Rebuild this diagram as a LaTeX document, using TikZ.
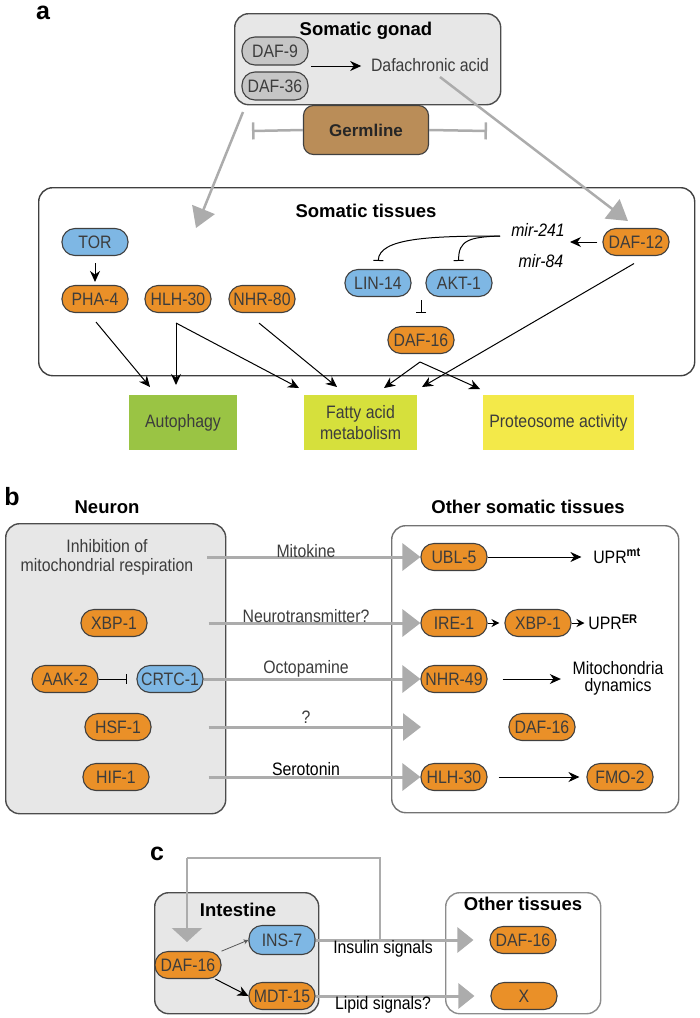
\documentclass[tikz,border=0pt]{standalone}
\usepackage{fontspec}
\setmainfont{Liberation Sans}
\newfontfamily\narrowsf{Liberation Sans}[FakeStretch=0.88]
\usetikzlibrary{arrows.meta}

\definecolor{tfor}{RGB}{234,144,40}
\definecolor{kinb}{RGB}{126,183,228}
\definecolor{enzg}{RGB}{198,198,198}
\definecolor{cellg}{RGB}{231,231,231}
\definecolor{germ}{RGB}{186,141,88}
\definecolor{autog}{RGB}{154,196,68}
\definecolor{fattyy}{RGB}{214,224,60}
\definecolor{proty}{RGB}{243,233,73}
\definecolor{sig}{RGB}{172,172,172}
\definecolor{ink}{RGB}{60,60,60}

\begin{document}
\begin{tikzpicture}[x=1pt, y=-1pt, >={Stealth[length=11pt,width=10pt]}, line width=1pt,
  every node/.style={font=\narrowsf\fontsize{18}{20}\selectfont, text=ink}]

\tikzstyle{gene}=[draw=black!75, line width=1.1pt, rounded corners=13pt, minimum width=66pt, minimum height=27pt, inner sep=1pt]
\tikzstyle{onode}=[gene, fill=tfor]
\tikzstyle{bnode}=[gene, fill=kinb]
\tikzstyle{gnode}=[gene, fill=enzg, minimum height=28pt]
\tikzstyle{tissuebox}=[draw=black!70, line width=1.4pt, rounded corners=14pt, anchor=north west]
\tikzstyle{boxtitle}=[font=\bfseries\fontsize{18.5}{20}\selectfont, text=black]
\tikzstyle{panelletter}=[font=\bfseries\fontsize{25}{26}\selectfont, text=black]
\tikzstyle{outcome}=[minimum height=55pt, align=center, font=\narrowsf\fontsize{18}{21}\selectfont]
\tikzstyle{sigarrow}=[draw=sig, line width=3pt, -{Triangle[length=18pt,width=27pt]}]
\tikzstyle{inh}=[-{Bar[width=10pt]}]

\useasboundingbox (0,0) rectangle (700,1018);

% ---- a ----
\node[panelletter] (pa) at (43,13) {a};
\node[tissuebox, fill=cellg, minimum width=266pt, minimum height=91pt] (gonad) at (234,13) {};
\node[boxtitle] (gonadt) at (366,31) {Somatic gonad};
\node[gnode] (daf9) at (275,51) {DAF-9};
\node[gnode] (daf36) at (275,86) {DAF-36};
\node (dafa) at (430,65) {Dafachronic acid};
\coordinate (dafpair) at (311,66);
\draw[->, shorten >=6pt] (dafpair) -- (dafa.west |- dafpair);

\node[draw=black!75, line width=1.1pt, fill=germ, rounded corners=10pt, minimum width=125pt, minimum height=49pt,
  font=\bfseries\fontsize{17}{19}\selectfont, text=black!85] (germ) at (366,130) {Germline};
\coordinate (germl) at (252,131);
\coordinate (germr) at (487,131);
\draw[draw=sig, line width=2.5pt, -{Bar[width=17pt]}] (germ.west) -- (germl);
\draw[draw=sig, line width=2.5pt, -{Bar[width=17pt]}] (germ.east) -- (germr);

\node[tissuebox, draw=black!75, minimum width=656pt, minimum height=188pt] (soma) at (38,187) {};
\node[boxtitle] (somat) at (366,211) {Somatic tissues};

\coordinate (gonadout) at (243,112);
\coordinate (somain) at (196,228);
\coordinate (dafaout) at (440,77);
\coordinate (d12in) at (628,221);
\draw[sigarrow, line width=2.5pt, -{Triangle[length=20pt,width=24pt]}] (gonadout) -- (somain);
\draw[sigarrow, line width=2.5pt, -{Triangle[length=20pt,width=24pt]}] (dafaout) -- (d12in);

\node[bnode] (tor) at (95,242) {TOR};
\node[onode] (pha4) at (95,299) {PHA-4};
\node[onode] (hlh30) at (178,299) {HLH-30};
\node[onode] (nhr80) at (262,299) {NHR-80};
\node[bnode] (lin14) at (378,283) {LIN-14};
\node[bnode] (akt1) at (459,283) {AKT-1};
\node[onode] (daf16) at (421,340) {DAF-16};
\node[onode] (daf12) at (636,242) {DAF-12};
\node[font=\narrowsf\itshape\fontsize{18}{20}\selectfont, text=black] (mir241) at (538,230) {mir-241};
\node[font=\narrowsf\itshape\fontsize{18}{20}\selectfont, text=black] (mir84) at (541,261) {mir-84};

\draw[->, shorten <=7pt, shorten >=3pt] (tor) -- (pha4);
\coordinate (mirs) at (570,242);
\draw[->, shorten <=5pt] (daf12) -- (mirs);
\coordinate (mirfork) at (500,236);
\draw[inh, shorten >=8pt] (mirfork) .. controls (430,236) and (379,238) .. (lin14.north);
\draw[inh, shorten >=8pt] (mirfork) .. controls (470,237) and (458,240) .. (akt1.north);
\coordinate (linakt) at (421,300);
\draw[inh, shorten >=13pt] (linakt) -- (daf16.north);

\node[outcome, fill=autog, minimum width=108pt] (autoph) at (183,422.5) {Autophagy};
\node[outcome, fill=fattyy, minimum width=113pt] (fatty) at (360.5,422.5) {Fatty acid\\metabolism};
\node[outcome, fill=proty, minimum width=151pt] (proteo) at (558.5,422.5) {Proteosome activity};

\coordinate (au1) at (150,387);
\coordinate (au2) at (176,385);
\coordinate (fa1) at (299,388);
\coordinate (fa2) at (337,387);
\coordinate (fa3) at (384,388);
\coordinate (fa4) at (422,387);
\coordinate (pr1) at (480,389);
\coordinate (hlhfork) at (176,323);
\coordinate (d16fork) at (420,362);
\draw[->] ([shift={(1,9)}]pha4.south) -- (au1);
\draw[->] (hlhfork) -- (au2);
\draw[->] (hlhfork) -- (fa1);
\draw[->] ([shift={(-3,10)}]nhr80.south) -- (fa2);
\draw[->] ([shift={(-2,7.5)}]daf12.south) -- (fa4);
\draw[->] (d16fork) -- (fa3);
\draw[->] (d16fork) -- (pr1);

% ---- b ----
\node[panelletter] (pb) at (12,497) {b};
\node[boxtitle] (neurt) at (107,507) {Neuron};
\node[boxtitle] (othert) at (528,507) {Other somatic tissues};
\node[tissuebox, fill=cellg, minimum width=220pt, minimum height=290pt] (neuron) at (5,523) {};
\node[tissuebox, draw=black!55, minimum width=287pt, minimum height=287pt] (other) at (391,525) {};

\node[align=center, font=\narrowsf\fontsize{18}{19}\selectfont] (inhib) at (107,557) {Inhibition of\\mitochondrial respiration};
\node[onode] (xbp1n) at (114,623) {XBP-1};
\node[onode] (aak2) at (65,679) {AAK-2};
\node[bnode] (crtc1) at (170,679) {CRTC-1};
\node[onode] (hsf1) at (118,727) {HSF-1};
\node[onode] (hif1) at (116,777) {HIF-1};

\node[onode] (ubl5) at (454,557) {UBL-5};
\node[onode] (ire1) at (454,623) {IRE-1};
\node[onode] (xbp1o) at (538,623) {XBP-1};
\node[onode] (nhr49) at (454,679) {NHR-49};
\node[onode] (daf16b) at (542,727) {DAF-16};
\node[onode] (hlh30b) at (454,777) {HLH-30};
\node[onode] (fmo2) at (620,777) {FMO-2};
\node[text=black] (uprmt) at (617,556) {UPR\textsuperscript{\bfseries mt}};
\node[text=black] (uprer) at (613,622) {UPR\textsuperscript{\bfseries ER}};
\node[text=black, align=center, font=\narrowsf\fontsize{18}{17}\selectfont] (mito) at (618,678) {Mitochondria\\dynamics};

\draw[inh, shorten >=9pt] (aak2) -- (crtc1);
\coordinate (hsfto) at (421,727);
\draw[sigarrow, shorten <=10pt] (inhib.east) -- (inhib.east -| ubl5.west);
\draw[sigarrow, shorten <=61pt] (xbp1n) -- (ire1);
\draw[sigarrow] (crtc1) -- (nhr49);
\draw[sigarrow, shorten <=57pt] (hsf1) -- (hsfto);
\draw[sigarrow, shorten <=59pt] (hif1) -- (hlh30b);

\node (mitok) at (306,551) {Mitokine};
\node (neurot) at (306,616) {Neurotransmitter?};
\node (octop) at (306,669) {Octopamine};
\node (qmark) at (306,717) {?};
\node[text=black] (serot) at (306,769) {Serotonin};

\draw[->, shorten >=8pt] (ubl5) -- (ubl5 -| uprmt.west);
\draw[->, -{Stealth[length=8pt,width=8pt]}, shorten >=5pt] (ire1) -- (xbp1o);
\draw[->, -{Stealth[length=8pt,width=8pt]}] (xbp1o) -- (xbp1o -| uprer.west);
\draw[->, shorten <=15pt, shorten >=8pt] (nhr49) -- (nhr49 -| mito.west);
\draw[->, shorten <=11pt, shorten >=7pt] (hlh30b) -- (fmo2);

% ---- c ----
\node[panelletter] (pc) at (157,854) {c};
\node[tissuebox, fill=cellg, minimum width=164pt, minimum height=121pt] (intest) at (154,892) {};
\node[tissuebox, draw=black!45, minimum width=155pt, minimum height=121pt] (othtis) at (445,892) {};
\node[boxtitle] (intt) at (238,910) {Intestine};
\node[boxtitle] (otht) at (523,904) {Other tissues};

\node[onode] (daf16i) at (188,965) {DAF-16};
\node[bnode, minimum height=29pt] (ins7) at (282,940) {INS-7};
\node[onode] (mdt15) at (282,996) {MDT-15};
\node[onode] (daf16c) at (523,940) {DAF-16};
\node[onode] (xnode) at (524,996) {X};

\draw[black!65, line width=0.8pt, -{Stealth[length=5pt,width=5pt]}] (daf16i) -- (ins7.west);
\draw[->] (daf16i) -- (mdt15.west);

\coordinate (fbstart) at (380,940);
\coordinate (fbcorner) at (187,858);
\coordinate (fbtip) at (187,942);
\draw[draw=sig, line width=2.5pt] (fbstart) |- (fbcorner);
\draw[sigarrow, line width=2.5pt, -{Triangle[length=14pt,width=30pt]}] (fbcorner) -- (fbtip);
\draw[sigarrow, -{Triangle[length=16pt,width=25pt]}, shorten >=16pt] (ins7) -- (daf16c);
\draw[sigarrow, -{Triangle[length=16pt,width=25pt]}, shorten >=16pt] (mdt15) -- (xnode);

\node[text=black] (insl) at (383,949) {Insulin signals};
\node[text=black] (lipl) at (383,1005) {Lipid signals?};
\end{tikzpicture}
\end{document}
